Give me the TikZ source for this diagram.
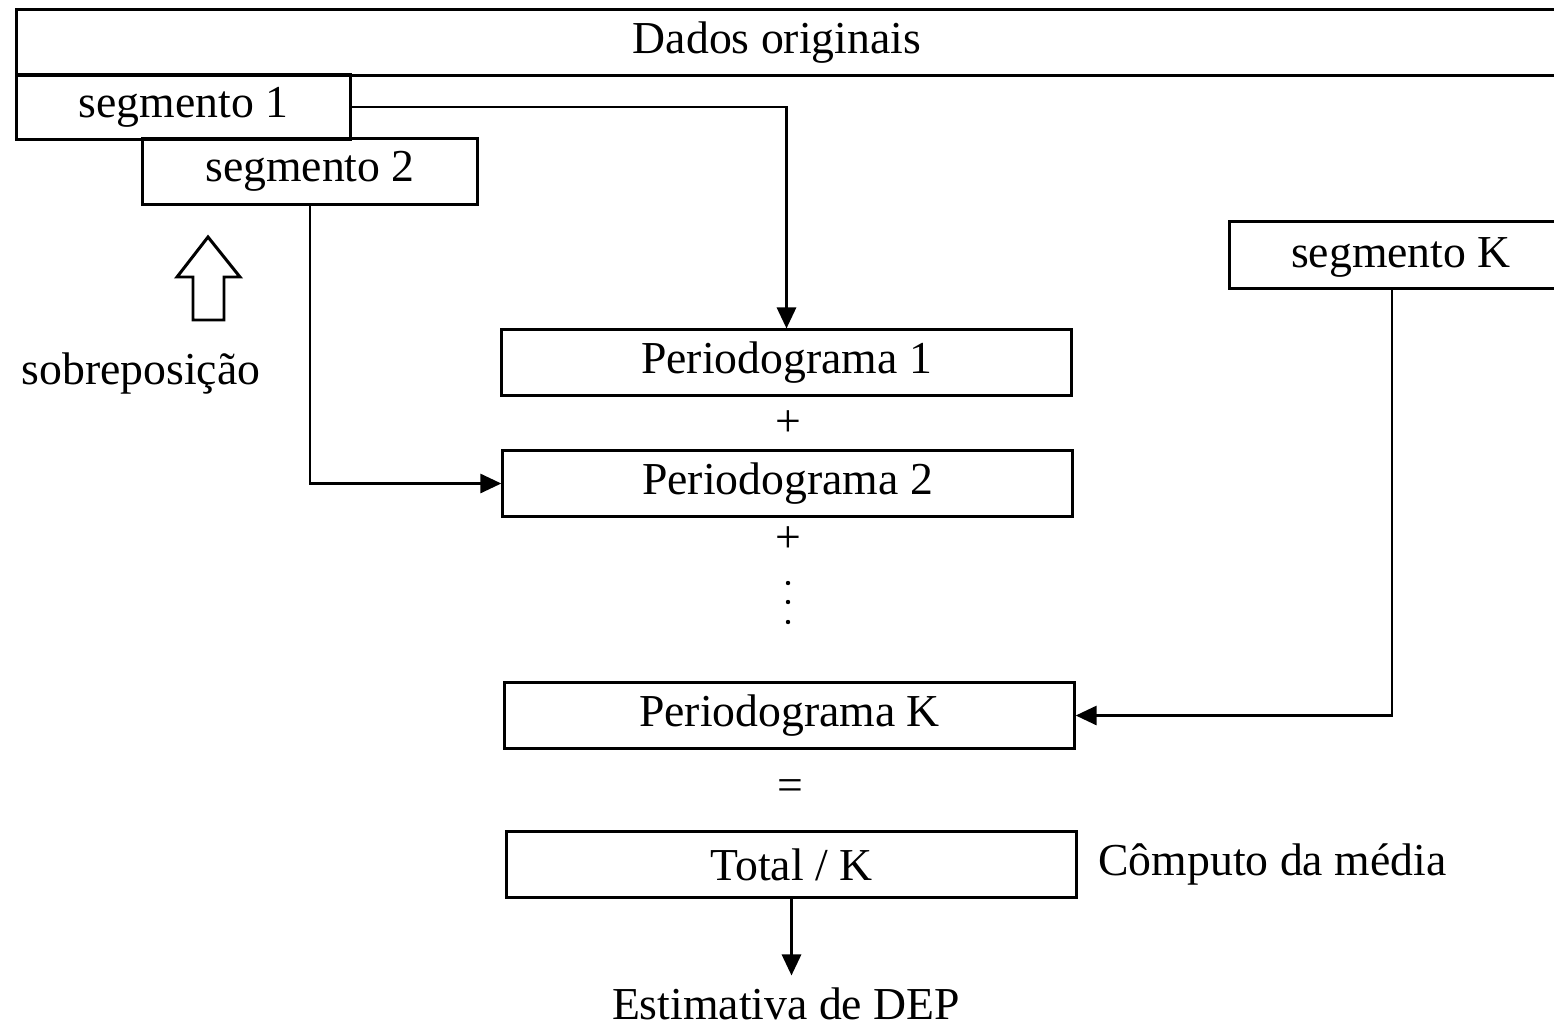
\documentclass[tikz,border=0pt]{standalone}
\usepackage{fontspec}
\setmainfont{Liberation Serif}
\usepackage{tikz}
\usetikzlibrary{arrows.meta,positioning,calc}

\begin{document}
\begin{tikzpicture}[x=0.01cm,y=-0.01cm,font=\fontsize{13}{15}\selectfont,
		bloco/.style={draw, line width=0.85pt, minimum height=0.65cm, inner sep=0pt},
		seta/.style={-{Triangle[length=0.21cm,width=0.19cm]}, line width=0.85pt}]
		\useasboundingbox (0,0) rectangle (1554,1027);
		\clip (0,0) rectangle (1554,1027);
		\node[bloco, minimum width=15.9cm] (dados) at (812,42.5) {\hspace*{-0.7cm}Dados originais};
		\node[bloco, minimum width=3.33cm, minimum height=0.64cm] (seg1) at (183.5,107) {segmento 1};
		\node[bloco, minimum width=3.34cm] (seg2) at (310,171.5) {segmento 2};
		\node[bloco, minimum width=3.7cm, minimum height=0.66cm] (segKbox) at (1415,255) {};
		\node (segK) at (1401,257) {segmento K};
		\draw[line width=0.85pt] (208,237) -- (240,277) -- (224,277) -- (224,320) -- (193,320) -- (193,277) -- (177,277) -- cycle;
		\node[align=left] (sobre) at (141,374) {sobreposição};
		\node[bloco, minimum width=5.69cm] (per1) at (786.5,362.5) {Periodograma 1};
		\node (mais1) at (788,424) {+};
		\node[bloco, minimum width=5.69cm] (per2) at (787.5,483.5) {Periodograma 2};
		\node (mais2) at (788,540) {+};
		\foreach \y in {583,602,622}
			\fill (788,\y) circle (0.022cm);
		\node[bloco, minimum width=5.69cm] (perK) at (789.5,715.5) {Periodograma K};
		\node (igual) at (790,790) {=};
		\node[bloco, minimum width=5.69cm] (total) at (791.5,864.5) {Total / K};
		\node[anchor=west] (media) at (1086,864) {Cômputo da média};
		\node (est) at (786,1004) {Estimativa de DEP};
		\draw[seta] (seg1.east) -| (per1.north);
		\draw[seta] (seg2.south) |- (per2.west);
		\draw[seta] ([xshift=-0.23cm]segKbox.south) |- (perK.east);
		\draw[seta] (total.south) -- (total.south |- est.north);
	\end{tikzpicture}
\end{document}
